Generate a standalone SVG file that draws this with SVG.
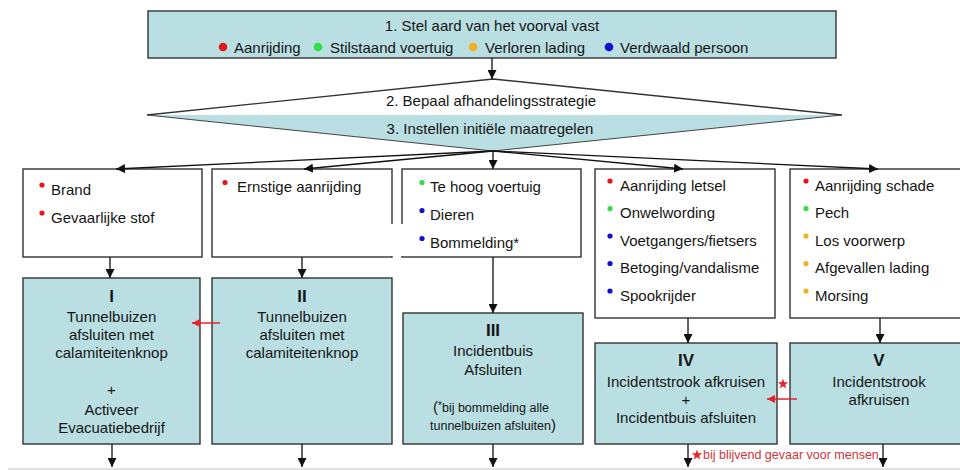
<svg xmlns="http://www.w3.org/2000/svg" xmlns:xlink="http://www.w3.org/1999/xlink" width="960" height="470" viewBox="0 0 960 470">
  <style>
    text { font-family: "Liberation Sans", Arial, sans-serif; font-size: 15px; fill: #151515; }
    .c { text-anchor: middle; }
    .num { font-weight: bold; font-size: 17px; }
    .sm { font-size: 12.5px; }
    .box { stroke: #333; stroke-width: 1.4; }
    .w { fill: #fff; }
    .b { fill: #b9dfe3; }
    .con { stroke: #111; stroke-width: 1.3; fill: none; marker-end: url(#ah); }
    .red { stroke: #e8222a; stroke-width: 1.5; fill: none; marker-end: url(#ahr); }
    .rd { fill: #e8141c; } .gr { fill: #2fe040; } .or { fill: #f0b020; } .bl { fill: #1010d0; }
    .note { fill: #d0343a; font-size: 12.5px; }
  </style>
  <defs>
    <marker id="ah" viewBox="0 0 10 10" refX="10" refY="5" markerWidth="9" markerHeight="9" markerUnits="userSpaceOnUse" orient="auto">
      <path d="M0,0 L10,5 L0,10 z" fill="#111"/>
    </marker>
    <marker id="ahr" viewBox="0 0 10 10" refX="10" refY="5" markerWidth="8" markerHeight="8" markerUnits="userSpaceOnUse" orient="auto">
      <path d="M0,0 L10,5 L0,10 z" fill="#e8222a"/>
    </marker>
    <polygon id="star" points="0,-5.5 1.293,-1.78 5.231,-1.7 2.092,0.68 3.233,4.45 0,2.2 -3.233,4.45 -2.092,0.68 -5.231,-1.7 -1.293,-1.78" fill="#e8222a"/>
  </defs>
  <rect width="960" height="470" fill="#fff"/>

  <g id="step1">
    <rect class="box b" x="148" y="11" width="688" height="47"/>
    <text class="c" x="492" y="31">1. Stel aard van het voorval vast</text>
    <circle class="rd" cx="223" cy="47" r="4.3"/>
    <text x="234" y="52.5">Aanrijding</text>
    <circle class="gr" cx="318" cy="47" r="4.3"/>
    <text x="330" y="52.5">Stilstaand voertuig</text>
    <circle class="or" cx="473" cy="47" r="4.3"/>
    <text x="485" y="52.5">Verloren lading</text>
    <circle class="bl" cx="609" cy="47" r="4.3"/>
    <text x="620" y="52.5">Verdwaald persoon</text>
  </g>

  <g id="step23">
    <polygon points="493,79 147,115 842,115" fill="#fff"/>
    <polygon points="147,115 842,115 493,151" fill="#b9dfe3"/>
    <polyline points="147,115 493,79 842,115" fill="none" stroke="#333" stroke-width="1.4"/>
    <polyline points="147,115 493,151 842,115" fill="none" stroke="#444" stroke-width="1"/>
    <text class="c" x="491" y="106">2. Bepaal afhandelingsstrategie</text>
    <text class="c" x="490" y="134">3.  Instellen initiële maatregelen</text>
  </g>

  <g id="cat1">
    <rect class="box w" x="23" y="169" width="179" height="88"/>
    <circle class="rd" cx="42" cy="185" r="2.6"/>
    <text x="51" y="195">Brand</text>
    <circle class="rd" cx="42" cy="213" r="2.6"/>
    <text x="51" y="223">Gevaarlijke stof</text>
  </g>
  <g id="cat2">
    <rect class="box w" x="212" y="169" width="180" height="88"/>
    <circle class="rd" cx="225" cy="182.5" r="2.6"/>
    <text x="237" y="192">Ernstige aanrijding</text>
  </g>
  <g id="cat3">
    <rect class="box w" x="402" y="169" width="179" height="88"/>
    <circle class="gr" cx="422" cy="182.5" r="2.6"/>
    <text x="430" y="192">Te hoog voertuig</text>
    <circle class="bl" cx="422" cy="210.5" r="2.6"/>
    <text x="430" y="220">Dieren</text>
    <circle class="bl" cx="422" cy="238.5" r="2.6"/>
    <text x="430" y="248">Bommelding*</text>
  </g>
  <rect x="388" y="224" width="20" height="32" fill="#fff"/>
  <g id="cat4">
    <rect class="box w" x="595" y="169" width="180" height="149"/>
    <circle class="rd" cx="610" cy="181" r="2.6"/>
    <text x="620" y="190.5">Aanrijding letsel</text>
    <circle class="gr" cx="610" cy="208.5" r="2.6"/>
    <text x="620" y="218">Onwelwording</text>
    <circle class="bl" cx="610" cy="236" r="2.6"/>
    <text x="620" y="245.5">Voetgangers/fietsers</text>
    <circle class="bl" cx="610" cy="263.5" r="2.6"/>
    <text x="620" y="273">Betoging/vandalisme</text>
    <circle class="bl" cx="610" cy="291" r="2.6"/>
    <text x="620" y="300.5">Spookrijder</text>
  </g>
  <g id="cat5">
    <rect class="box w" x="790" y="169" width="180" height="149"/>
    <circle class="rd" cx="806" cy="181" r="2.6"/>
    <text x="815" y="190.5">Aanrijding schade</text>
    <circle class="gr" cx="806" cy="208.5" r="2.6"/>
    <text x="815" y="218">Pech</text>
    <circle class="or" cx="806" cy="236" r="2.6"/>
    <text x="815" y="245.5">Los voorwerp</text>
    <circle class="or" cx="806" cy="263.5" r="2.6"/>
    <text x="815" y="273">Afgevallen lading</text>
    <circle class="or" cx="806" cy="291" r="2.6"/>
    <text x="815" y="300.5">Morsing</text>
  </g>

  <g id="scenI">
    <rect class="box b" x="23" y="278" width="177" height="166"/>
    <text class="c num" x="111.5" y="302">I</text>
    <text class="c" x="111.5" y="322">Tunnelbuizen</text>
    <text class="c" x="111.5" y="340">afsluiten met</text>
    <text class="c" x="111.5" y="358">calamiteitenknop</text>
    <text class="c" x="111.5" y="395">+</text>
    <text class="c" x="111.5" y="415">Activeer</text>
    <text class="c" x="111.5" y="433">Evacuatiebedrijf</text>
  </g>
  <g id="scenII">
    <rect class="box b" x="212" y="278" width="180" height="166"/>
    <text class="c num" x="302" y="302">II</text>
    <text class="c" x="302" y="322">Tunnelbuizen</text>
    <text class="c" x="302" y="340">afsluiten met</text>
    <text class="c" x="302" y="358">calamiteitenknop</text>
  </g>
  <g id="scenIII">
    <rect class="box b" x="403" y="313" width="180" height="131"/>
    <text class="c num" x="493" y="336">III</text>
    <text class="c" x="493" y="356">Incidentbuis</text>
    <text class="c" x="493" y="375">Afsluiten</text>
    <text class="c sm" x="491" y="412"><tspan font-size="15">(</tspan><tspan font-size="10" dy="-3">*</tspan><tspan dy="3">bij bommelding alle</tspan></text>
    <text class="c sm" x="493" y="430">tunnelbuizen afsluiten<tspan font-size="15">)</tspan></text>
  </g>
  <g id="scenIV">
    <rect class="box b" x="595" y="343" width="182" height="101"/>
    <text class="c num" x="686" y="366">IV</text>
    <text class="c" x="686" y="387">Incidentstrook afkruisen</text>
    <text class="c" x="686" y="405">+</text>
    <text class="c" x="686" y="423">Incidentbuis afsluiten</text>
  </g>
  <g id="scenV">
    <rect class="box b" x="790" y="343" width="180" height="101"/>
    <text class="c num" x="879" y="366">V</text>
    <text class="c" x="879" y="387">Incidentstrook</text>
    <text class="c" x="879" y="405">afkruisen</text>
  </g>

  <g id="connectors">
    <line class="con" x1="492" y1="58" x2="492" y2="79"/>
    <line class="con" x1="493" y1="151" x2="116" y2="169"/>
    <line class="con" x1="493" y1="151" x2="304" y2="169"/>
    <line class="con" x1="493" y1="151" x2="493" y2="169"/>
    <line class="con" x1="493" y1="151" x2="683" y2="169"/>
    <line class="con" x1="493" y1="151" x2="878" y2="169"/>
    <line class="con" x1="110" y1="257" x2="110" y2="278"/>
    <line class="con" x1="302" y1="257" x2="302" y2="278"/>
    <line class="con" x1="493" y1="257" x2="493" y2="313"/>
    <line class="con" x1="688" y1="318" x2="688" y2="343"/>
    <line class="con" x1="880" y1="318" x2="880" y2="343"/>
    <line class="con" x1="112" y1="444" x2="112" y2="467"/>
    <line class="con" x1="302" y1="444" x2="302" y2="467"/>
    <line class="con" x1="493" y1="444" x2="493" y2="467"/>
    <line class="con" x1="688" y1="444" x2="688" y2="467"/>
    <line class="con" x1="883" y1="444" x2="883" y2="467"/>
    <line class="red" x1="220" y1="323" x2="192" y2="323"/>
    <line class="red" x1="797" y1="399" x2="767" y2="399"/>
  </g>

  <g id="notes">
    <use xlink:href="#star" href="#star" x="783" y="384"/>
    <use xlink:href="#star" href="#star" x="697" y="455"/>
    <text class="note" x="703" y="459">bij blijvend gevaar voor mensen</text>
  </g>
  <line x1="8" y1="469" x2="960" y2="469" stroke="#e2e2e2" stroke-width="2"/>
</svg>
